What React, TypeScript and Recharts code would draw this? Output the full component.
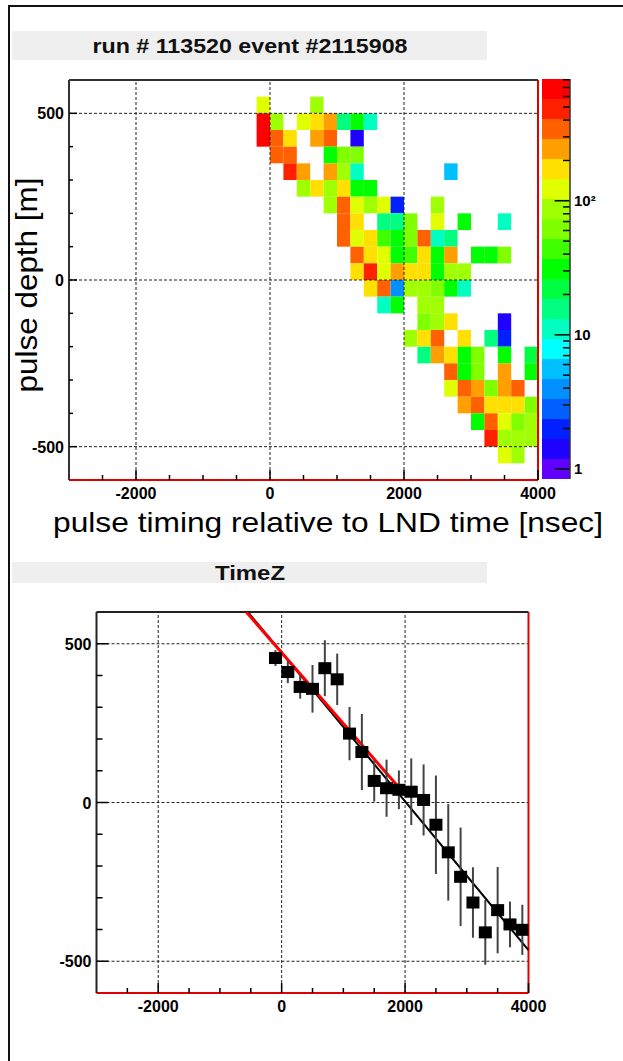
import {
  ComposedChart,
  XAxis,
  YAxis,
  ReferenceArea,
  ReferenceLine,
  Label,
  Line,
  Scatter,
  ErrorBar,
} from "recharts";

const FONT = "'Liberation Sans', Arial, Helvetica, sans-serif";

// hit map: [time bin low edge (ns), depth bin low edge (m), hits]
const BIN_T = 200;
const BIN_Z = 50;
const hits: [number, number, number][] = [
  [-200, 500, 120], [600, 500, 85],
  [-200, 450, 700], [0, 450, 85], [400, 450, 120], [600, 450, 170], [800, 450, 240], [1000, 450, 15], [1200, 450, 29], [1400, 450, 10],
  [-200, 400, 700], [0, 400, 350], [200, 400, 170], [600, 400, 240], [800, 400, 350], [1200, 400, 1.3],
  [0, 350, 350], [200, 350, 350], [800, 350, 29], [1000, 350, 60], [1200, 350, 60],
  [200, 300, 490], [400, 300, 240], [800, 300, 240], [1000, 300, 85], [1200, 300, 10], [2600, 300, 5],
  [400, 250, 85], [600, 250, 170], [800, 250, 85], [1000, 250, 170], [1200, 250, 29], [1400, 250, 29],
  [800, 200, 85], [1000, 200, 350], [1200, 200, 120], [1400, 200, 85], [1600, 200, 120], [1800, 200, 2], [2400, 200, 85],
  [1000, 150, 350], [1200, 150, 170], [1600, 150, 15], [1800, 150, 15], [2000, 150, 60], [2400, 150, 120], [2800, 150, 29], [3400, 150, 10],
  [1000, 100, 350], [1200, 100, 120], [1400, 100, 170], [1600, 100, 42], [1800, 100, 29], [2000, 100, 60], [2200, 100, 350], [2400, 100, 10], [2600, 100, 15],
  [1200, 50, 350], [1400, 50, 170], [1600, 50, 120], [1800, 50, 29], [2000, 50, 42], [2200, 50, 170], [2400, 50, 29], [2600, 50, 240], [3000, 50, 29], [3200, 50, 29], [3400, 50, 60],
  [1200, 0, 170], [1400, 0, 490], [1600, 0, 120], [1800, 0, 240], [2000, 0, 170], [2200, 0, 170], [2400, 0, 29], [2600, 0, 85], [2800, 0, 85],
  [1400, -50, 170], [1600, -50, 350], [1800, -50, 3.6], [2000, -50, 85], [2200, -50, 85], [2400, -50, 60], [2600, -50, 29], [2800, -50, 10],
  [1600, -100, 10], [1800, -100, 29], [2200, -100, 85], [2400, -100, 85],
  [2200, -150, 60], [2400, -150, 85], [2600, -150, 170], [3400, -150, 1.3],
  [2000, -200, 85], [2200, -200, 170], [2400, -200, 350], [2800, -200, 170], [3200, -200, 15], [3400, -200, 2],
  [2200, -250, 15], [2400, -250, 240], [2600, -250, 170], [2800, -250, 29], [3000, -250, 60], [3400, -250, 29], [3800, -250, 21],
  [2600, -300, 350], [2800, -300, 29], [3000, -300, 60], [3400, -300, 240], [3800, -300, 29],
  [2600, -350, 120], [2800, -350, 350], [3000, -350, 240], [3200, -350, 60], [3400, -350, 240], [3600, -350, 350],
  [2800, -400, 240], [3000, -400, 350], [3200, -400, 170], [3400, -400, 170], [3600, -400, 170], [3800, -400, 60],
  [3000, -450, 29], [3200, -450, 350], [3400, -450, 120], [3600, -450, 60], [3800, -450, 85],
  [3200, -500, 490], [3400, -500, 85], [3600, -500, 85], [3800, -500, 85],
  [3400, -550, 120], [3600, -550, 85],
];

// TimeZ profile
const profileT = [-100, 100, 300, 500, 700, 900, 1100, 1300, 1500, 1700, 1900, 2100, 2300, 2500, 2700, 2900, 3100, 3300, 3500, 3700, 3900];
const profileZ = [455, 411, 364, 358, 423, 388, 217, 159, 68, 45, 40, 34, 8, -70, -157, -234, -315, -409, -339, -384, -401];
const profileErr = [25, 35, 37, 75, 88, 81, 84, 120, 65, 90, 61, 105, 112, 155, 152, 155, 111, 102, 136, 72, 79];

const blackFit = [
  { t: -546, z: 600 },
  { t: 4000, z: -465 },
];
const redFit = [
  { t: -573, z: 600 },
  { t: 2000, z: 25 },
];

const xTicks = [-2500, -2000, -1500, -1000, -500, 0, 500, 1000, 1500, 2000, 2500, 3000, 3500, 4000];
const yTicks = [-500, -400, -300, -200, -100, 0, 100, 200, 300, 400, 500];
const xGrid = [-2000, 0, 2000];
const yGrid = [-500, 0, 500];

const palette = [
  "#6000ff", "#2000ff", "#0020ff", "#0060ff", "#0090ff", "#00c0ff", "#00ffff", "#00ffc0", "#00ff80", "#00ff40",
  "#00ff00", "#40ff00", "#80ff00", "#a0ff00", "#e0ff00", "#ffe000", "#ffa000", "#ff6000", "#ff2000", "#ff0000",
];
const COUNT_MIN = 0.84;
const COUNT_MAX = 810;
const colorMajor = [1, 10, 100];
const colorMinor = [2, 3, 4, 5, 6, 7, 8, 9, 20, 30, 40, 50, 60, 70, 80, 90, 200, 300, 400, 500, 600, 700, 800];

const LMIN = Math.log10(COUNT_MIN);
const LSTEP = (Math.log10(COUNT_MAX) - LMIN) / palette.length;
const bands = palette.map((color, i) => ({
  lo: Math.pow(10, LMIN + i * LSTEP),
  hi: Math.pow(10, LMIN + (i + 1) * LSTEP),
  color,
}));

function colorFor(v: number) {
  const k = Math.floor((Math.log10(v) - LMIN) / LSTEP);
  return palette[Math.max(0, Math.min(palette.length - 1, k))];
}

const tickText = { fontFamily: FONT, fontWeight: 700, fontSize: 16, fill: "#000" };

function xTick(majorLen: number, minorLen: number) {
  return (props: any) => {
    const { x, y, payload } = props;
    const major = payload.value % 2000 === 0;
    return (
      <g>
        <line x1={x} x2={x} y1={y} y2={y - (major ? majorLen : minorLen)} stroke="#000" strokeWidth={1.5} />
        {major && (
          <text x={x} y={y + 19} textAnchor="middle" {...tickText}>
            {payload.value}
          </text>
        )}
      </g>
    );
  };
}

function yTick(majorLen: number, minorLen: number) {
  return (props: any) => {
    const { x, y, payload } = props;
    const major = payload.value % 500 === 0;
    return (
      <g>
        <line x1={x} x2={x + (major ? majorLen : minorLen)} y1={y} y2={y} stroke="#000" strokeWidth={1.5} />
        {major && (
          <text x={x - 5} y={y + 6} textAnchor="end" {...tickText}>
            {payload.value}
          </text>
        )}
      </g>
    );
  };
}

function gridLines() {
  return [
    ...xGrid.map((v) => (
      <ReferenceLine key={"gx" + v} x={v} stroke="#222" strokeDasharray="3 2" />
    )),
    ...yGrid.map((v) => (
      <ReferenceLine key={"gy" + v} y={v} stroke="#222" strokeDasharray="3 2" />
    )),
  ];
}

function HitMap() {
  return (
    <ComposedChart width={623} height={560} margin={{ top: 80, right: 85, bottom: 50, left: 29 }}>
      <XAxis
        type="number"
        dataKey="t"
        domain={[-3000, 4000]}
        ticks={xTicks}
        interval={0}
        allowDataOverflow
        height={30}
        tickSize={0}
        tickMargin={0}
        tickLine={false}
        tick={xTick(10, 5)}
        axisLine={{ stroke: "#e00000", strokeWidth: 2 }}
      >
        <Label
          content={() => (
            <text x={53} y={532} fontFamily={FONT} fontSize={28} fill="#000" textLength={550} lengthAdjust="spacingAndGlyphs">
              pulse timing relative to LND time [nsec]
            </text>
          )}
        />
      </XAxis>
      <YAxis
        type="number"
        dataKey="z"
        domain={[-600, 600]}
        ticks={yTicks}
        interval={0}
        allowDataOverflow
        width={40}
        tickSize={0}
        tickMargin={0}
        tickLine={false}
        tick={yTick(8, 4)}
        axisLine={{ stroke: "#333", strokeWidth: 2 }}
      >
        <Label
          content={() => (
            <text
              x={37}
              y={285}
              transform="rotate(-90 37 285)"
              textAnchor="middle"
              fontFamily={FONT}
              fontSize={29}
              fill="#000"
              textLength={215}
              lengthAdjust="spacingAndGlyphs"
            >
              pulse depth [m]
            </text>
          )}
        />
      </YAxis>
      {hits.map(([t, z, n]) => (
        <ReferenceArea
          key={t + "_" + z}
          x1={t}
          x2={t + BIN_T}
          y1={z}
          y2={z + BIN_Z}
          fill={colorFor(n)}
          fillOpacity={1}
          stroke="none"
        />
      ))}
      {gridLines()}
      <ReferenceLine y={600} stroke="#333" strokeWidth={2} />
      <ReferenceLine x={4000} stroke="#e00000" strokeWidth={2} />
    </ComposedChart>
  );
}

function ColorBar() {
  return (
    <ComposedChart width={81} height={560} margin={{ top: 79, right: 13, bottom: 81, left: 0 }}>
      <XAxis type="number" dataKey="x" domain={[0, 1]} allowDataOverflow hide />
      <YAxis
        orientation="right"
        type="number"
        scale="log"
        domain={[COUNT_MIN, COUNT_MAX]}
        allowDataOverflow
        ticks={colorMajor}
        interval={0}
        width={40}
        axisLine={false}
        tickLine={false}
        tickSize={0}
        tickMargin={4}
        tick={{ ...tickText, fontSize: 15 }}
        tickFormatter={(v: number) => (v === 100 ? "10²" : String(v))}
      />
      {bands.map((b, i) => (
        <ReferenceArea
          key={i}
          x1={0}
          x2={1}
          y1={b.lo}
          y2={b.hi}
          fill={b.color}
          fillOpacity={1}
          stroke="none"
          ifOverflow="hidden"
        />
      ))}
      {colorMinor.map((v) => (
        <ReferenceLine key={"mn" + v} segment={[{ x: 0.75, y: v }, { x: 1, y: v }]} stroke="#000" strokeWidth={1.5} />
      ))}
      {colorMajor.map((v) => (
        <ReferenceLine key={"mj" + v} segment={[{ x: 0.45, y: v }, { x: 1, y: v }]} stroke="#000" strokeWidth={1.5} />
      ))}
      <ReferenceLine x={1} stroke="#333" strokeWidth={1.5} ifOverflow="visible" />
    </ComposedChart>
  );
}

const profile = profileT.map((t, i) => ({ t, z: profileZ[i], err: profileErr[i] }));

function Square(props: any) {
  const { cx, cy } = props;
  return <rect x={cx - 6.5} y={cy - 6} width={13} height={12} fill="#000" />;
}

function TimeZ() {
  return (
    <ComposedChart width={623} height={501} margin={{ top: 52, right: 94.5, bottom: 38, left: 56.5 }}>
      <XAxis
        type="number"
        dataKey="t"
        domain={[-3000, 4000]}
        ticks={xTicks}
        interval={0}
        allowDataOverflow
        height={30}
        tickSize={0}
        tickMargin={0}
        tickLine={false}
        tick={xTick(10, 5)}
        axisLine={{ stroke: "#e00000", strokeWidth: 2 }}
      />
      <YAxis
        type="number"
        dataKey="z"
        domain={[-600, 600]}
        ticks={yTicks}
        interval={0}
        allowDataOverflow
        width={40}
        tickSize={0}
        tickMargin={0}
        tickLine={false}
        tick={yTick(12, 6)}
        axisLine={{ stroke: "#222", strokeWidth: 2 }}
      />
      {gridLines()}
      <ReferenceLine y={600} stroke="#222" strokeWidth={2} />
      <ReferenceLine x={4000} stroke="#e00000" strokeWidth={2} />
      <Line data={blackFit} dataKey="z" type="linear" stroke="#000" strokeWidth={2} dot={false} isAnimationActive={false} />
      <Line data={redFit} dataKey="z" type="linear" stroke="#ff0000" strokeWidth={3} dot={false} isAnimationActive={false} />
      <Scatter data={profile} dataKey="z" shape={Square} isAnimationActive={false}>
        <ErrorBar dataKey="err" direction="y" width={0} stroke="#444" strokeWidth={2} isAnimationActive={false} />
      </Scatter>
    </ComposedChart>
  );
}

function TitleBox({ top, height, text, length }: { top: number; height: number; text: string; length: number }) {
  return (
    <svg style={{ position: "absolute", left: 12, top }} width={475} height={height}>
      <rect width={475} height={height} fill="#efefef" />
      <text
        x={238}
        y={height / 2 + 7}
        textAnchor="middle"
        fontFamily={FONT}
        fontWeight={700}
        fontSize={20}
        fill="#111"
        textLength={length}
        lengthAdjust="spacingAndGlyphs"
      >
        {text}
      </text>
    </svg>
  );
}

export default function App() {
  return (
    <div
      style={{
        position: "absolute",
        left: 0,
        top: 0,
        width: 623,
        height: 1061,
        background: "#fff",
        fontFamily: FONT,
        overflow: "hidden",
      }}
    >
      <div style={{ position: "absolute", left: 8, top: 5, width: 615, height: 2, background: "#111" }} />
      <div style={{ position: "absolute", left: 8, top: 5, width: 2, height: 1056, background: "#111" }} />
      <TitleBox top={31} height={29} text="run # 113520 event #2115908" length={315} />
      <div style={{ position: "absolute", left: 0, top: 0 }}>
        <HitMap />
      </div>
      <div style={{ position: "absolute", left: 542, top: 0 }}>
        <ColorBar />
      </div>
      <TitleBox top={562} height={21} text="TimeZ" length={70} />
      <div style={{ position: "absolute", left: 0, top: 560 }}>
        <TimeZ />
      </div>
    </div>
  );
}
